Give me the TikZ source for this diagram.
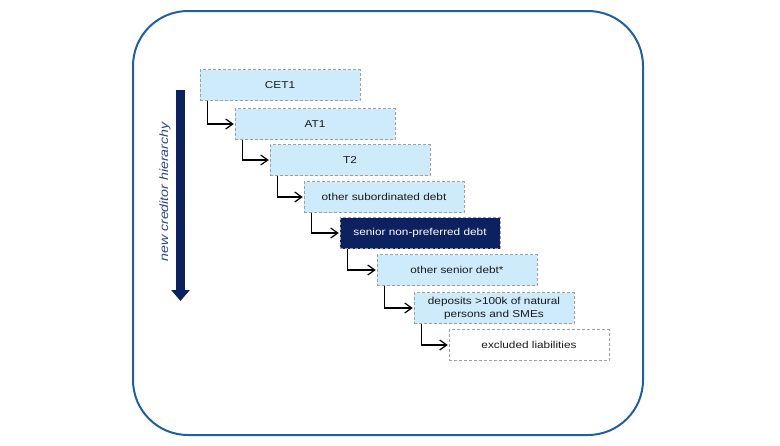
\documentclass[tikz,border=0pt]{standalone}
\usepackage{fontspec}
\setmainfont[FakeStretch=1.18]{Liberation Sans}
\usetikzlibrary{arrows.meta}
\definecolor{frameblue}{HTML}{1E5FA6}
\definecolor{navy}{HTML}{0C2160}
\definecolor{boxblue}{HTML}{CDEBFB}
\definecolor{labelblue}{HTML}{2A4788}

\begin{document}
\begin{tikzpicture}[x=1pt,y=-1pt,
            every node/.style={inner sep=0pt},
            flow/.style={line width=1.2pt,-{Straight Barb[length=7pt,width=10pt]}},
            layer/.style={draw=gray!75,densely dashed,line width=0.5pt,
              fill=boxblue,text=black!90,minimum width=160pt,
              minimum height=31pt,font=\fontsize{10}{13}\selectfont,align=center},
            juniorbox/.style={layer,fill=navy,text=white},
            plainbox/.style={layer,fill=white}]
            \useasboundingbox(0,0)rectangle(780,445);
            \draw[frameblue,line width=2pt,rounded corners=55pt]
              (133,11)rectangle(643,435);
            % layers of the hierarchy
            \node[layer](cet)at(280,85){CET1};
            \node[layer](at)at(315,124){AT1};
            \node[layer](tt)at(350,160){T2};
            \node[layer](sub)at(384,197){other subordinated debt};
            \node[juniorbox](snp)at(420,233){senior non-preferred debt};
            \node[layer](osd)at(457,270){other senior debt*};
            \node[layer](dep)at(494,308){deposits >100k of natural\\persons and SMEs};
            \node[plainbox](exl)at(529,345){excluded liabilities};
            \foreach \a/\b in {cet/at,at/tt,tt/sub,sub/snp,snp/osd,osd/dep,dep/exl}
              \draw[flow]([xshift=8pt]\a.south west)|-([xshift=-1pt]\b.west);
            % ranking arrow
            \coordinate(top)at(180.5,90);
            \coordinate(bot)at(180.5,301);
            \draw[navy,line width=8.5pt,-{Triangle[width=18pt,length=11pt]}](top)--(bot);
            \node[rotate=90,text=labelblue,font=\fontsize{12}{14}\selectfont\itshape]
              (lbl)at(165,192){new creditor hierarchy};
        \end{tikzpicture}
\end{document}
